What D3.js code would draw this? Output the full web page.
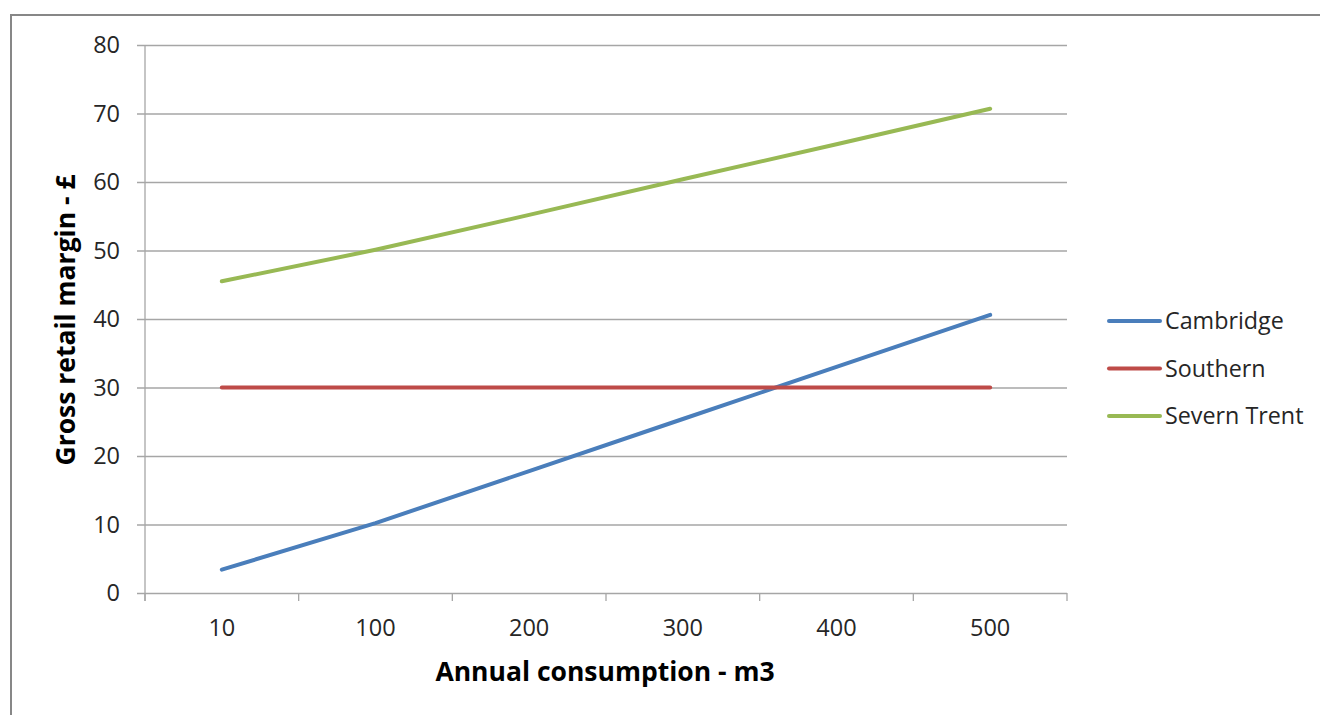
<!DOCTYPE html>
<html>
<head>
<meta charset="utf-8">
<script src="https://cdn.jsdelivr.net/npm/d3@7"></script>
<style>
	body { margin: 0; background: #fff; }
	svg { display: block; font-family: "Open Sans", sans-serif; }
	.tick-label { font-size: 23.5px; fill: #262626; }
	.axis-title { font-size: 26.5px; font-weight: bold; fill: #000; }
	.legend-label { font-size: 23.3px; fill: #262626; }
</style>
</head>
<body>
<svg id="chart" width="1320" height="715"></svg>
<script>
// chart data
var categories = ['10', '100', '200', '300', '400', '500'];
var cambridge = [3.4, 10.2, 17.8, 25.4, 33.0, 40.6];
var southern = [30, 30, 30, 30, 30, 30];
var severnTrent = [45.5, 50.1, 55.2, 60.4, 65.5, 70.7];
var seriesNames = ['Cambridge', 'Southern', 'Severn Trent'];
var yTicks = [0, 10, 20, 30, 40, 50, 60, 70, 80];

var colors = ['#4A7EBB', '#BE4B48', '#98B954'];
var seriesValues = [cambridge, southern, severnTrent];

var svg = d3.select('#chart');

// outer chart border
svg.append('rect')
	.attr('x', 11).attr('y', 15)
	.attr('width', 1330).attr('height', 720)
	.attr('fill', 'none')
	.attr('stroke', '#878787')
	.attr('stroke-width', 2);

var plot = { left: 145, right: 1067, top: 45, bottom: 593 };

var xScale = d3.scaleBand()
	.domain(categories)
	.range([plot.left, plot.right])
	.padding(0);

var yScale = d3.scaleLinear()
	.domain([0, 80])
	.range([plot.bottom, plot.top]);

var gridColor = '#a6a6a6';

// horizontal gridlines + y ticks
var yAxis = d3.axisLeft(yScale)
	.tickValues(yTicks)
	.tickSize(-(plot.right - plot.left))
	.tickSizeOuter(0)
	.tickPadding(25)
	.tickFormat(d3.format('d'));

var yG = svg.append('g')
	.attr('transform', 'translate(' + plot.left + ',0)')
	.call(yAxis);
yG.attr('font-size', null).attr('font-family', null);
yG.select('.domain').remove();
yG.selectAll('.tick line')
	.attr('x1', -8)
	.attr('stroke', gridColor)
	.attr('stroke-width', 1.3);
yG.selectAll('.tick text')
	.attr('class', 'tick-label')
	.attr('fill', null);

// vertical axis line
svg.append('line')
	.attr('x1', plot.left).attr('x2', plot.left)
	.attr('y1', yScale(80)).attr('y2', plot.bottom + 8)
	.attr('stroke', gridColor).attr('stroke-width', 1.3);

// category axis: tick marks at band edges
var bw = xScale.bandwidth();
var edges = categories.map(function(c) { return xScale(c); }).concat([plot.right]);
svg.append('g').selectAll('line')
	.data(edges)
	.enter()
	.append('line')
	.attr('x1', function(d) { return d; })
	.attr('x2', function(d) { return d; })
	.attr('y1', plot.bottom)
	.attr('y2', plot.bottom + 8)
	.attr('stroke', gridColor)
	.attr('stroke-width', 1.3);

svg.append('g').selectAll('text')
	.data(categories)
	.enter()
	.append('text')
	.attr('class', 'tick-label')
	.attr('x', function(d) { return xScale(d) + bw / 2; })
	.attr('y', plot.bottom + 43)
	.attr('text-anchor', 'middle')
	.text(function(d) { return d; });

// axis titles
svg.append('text')
	.attr('class', 'axis-title')
	.attr('x', 605)
	.attr('y', 681)
	.attr('text-anchor', 'middle')
	.text('Annual consumption - m3');

svg.append('text')
	.attr('class', 'axis-title')
	.attr('transform', 'translate(75,320) rotate(-90)')
	.attr('text-anchor', 'middle')
	.text('Gross retail margin - £');

// series lines
var line = d3.line()
	.x(function(d, i) { return xScale(categories[i]) + bw / 2; })
	.y(function(d) { return yScale(d); });

seriesValues.forEach(function(vals, i) {
	svg.append('path')
		.datum(vals)
		.attr('d', line)
		.attr('fill', 'none')
		.attr('stroke', colors[i])
		.attr('stroke-width', 4)
		.attr('stroke-linecap', 'round')
		.attr('stroke-linejoin', 'round');
});

// legend
var legend = svg.append('g').attr('transform', 'translate(1109,321)');
seriesNames.forEach(function(name, i) {
	var row = legend.append('g').attr('transform', 'translate(0,' + (i * 47.5) + ')');
	row.append('line')
		.attr('x1', 0).attr('x2', 51)
		.attr('stroke', colors[i])
		.attr('stroke-width', 4)
		.attr('stroke-linecap', 'round');
	row.append('text')
		.attr('class', 'legend-label')
		.attr('x', 56)
		.attr('y', 8)
		.text(name);
});
</script>
</body>
</html>
